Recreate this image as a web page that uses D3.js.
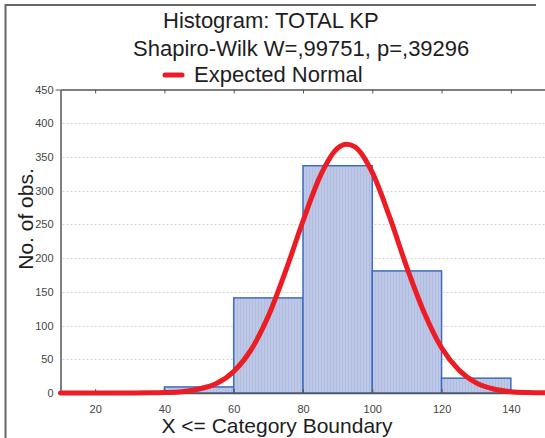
<!DOCTYPE html>
<html>
<head>
<meta charset="utf-8">
<script src="https://cdn.jsdelivr.net/npm/d3@7"></script>
<style>
  body { margin: 0; background: #fff; }
  svg { display: block; font-family: "Liberation Sans", Arial, sans-serif; }
</style>
</head>
<body>
<div id="chart"></div>
<script>
// histogram bins (upper boundary is the category boundary)
const binStarts = [40, 60, 80, 100, 120];
const binEnds = [60, 80, 100, 120, 140];
const binCounts = [9, 141, 337, 181, 22];

// expected normal curve
const curveX = [10, 15, 20, 25, 30, 35, 40, 45, 50, 55, 60, 65, 70, 75, 80, 85, 90, 92.5, 95, 100, 105, 110, 115, 120, 125, 130, 135, 140, 145, 150];
const curveY = [0, 0, 0, 0, 0, 0.2, 0.7, 2, 6, 14, 32, 64, 114, 181, 255, 322, 363, 369, 365, 327, 261, 186, 119, 67, 34, 15, 6, 2, 0.7, 0.2];

const xTicks = [20, 40, 60, 80, 100, 120, 140];
const yTicks = [0, 50, 100, 150, 200, 250, 300, 350, 400, 450];

const width = 545, height = 438;
const svg = d3.select('#chart').append('svg')
  .attr('width', width)
  .attr('height', height);

const x = d3.scaleLinear().domain([10, 150]).range([60.5, 545.5]);
const y = d3.scaleLinear().domain([0, 450]).range([393, 89.5]);

// outer frame
svg.append('path')
  .attr('d', 'M5.5,438 V5 H536')
  .attr('fill', 'none')
  .attr('stroke', '#666')
  .attr('stroke-width', 2);

// hatch pattern for bars
const defs = svg.append('defs');
const pat = defs.append('pattern')
  .attr('id', 'hatch')
  .attr('patternUnits', 'userSpaceOnUse')
  .attr('width', 3)
  .attr('height', 4);
pat.append('rect').attr('width', 3).attr('height', 4).attr('fill', '#bdc7e6');
pat.append('rect').attr('width', 1).attr('height', 4).attr('fill', '#b1bce0');

// grid
svg.append('g')
  .selectAll('line')
  .data(yTicks.filter(d => d > 0 && d < 450))
  .enter().append('line')
  .attr('x1', x(10) + 2)
  .attr('x2', width)
  .attr('y1', d => Math.round(y(d)) + 0.5)
  .attr('y2', d => Math.round(y(d)) + 0.5)
  .attr('stroke', '#d2d2d2')
  .attr('stroke-dasharray', '2,2');

// bars
const bins = binCounts.map((c, i) => ({ x0: binStarts[i], x1: binEnds[i], n: c }));
svg.append('g')
  .selectAll('rect')
  .data(bins)
  .enter().append('rect')
  .attr('x', d => x(d.x0))
  .attr('width', d => x(d.x1) - x(d.x0))
  .attr('y', d => y(d.n))
  .attr('height', d => y(0) - y(d.n))
  .attr('fill', 'url(#hatch)')
  .attr('stroke', '#3d6cc0')
  .attr('stroke-width', 1.5);

// axes
const xAxis = svg.append('g')
  .attr('transform', `translate(0,${y(0)})`)
  .call(d3.axisBottom(x).tickValues(xTicks).tickSizeInner(-4).tickSizeOuter(0).tickPadding(12));
const xTop = svg.append('g')
  .attr('transform', `translate(0,${y(450)})`)
  .call(d3.axisTop(x).tickValues(xTicks).tickSizeInner(-4).tickSizeOuter(0).tickFormat(''));
const yAxis = svg.append('g')
  .attr('transform', `translate(${x(10)},0)`)
  .call(d3.axisLeft(y).tickValues(yTicks).tickSizeInner(4).tickSizeOuter(0).tickPadding(3));

[xAxis, xTop, yAxis].forEach(g => {
  g.select('.domain').attr('stroke', '#555').attr('stroke-width', 1.5);
  g.selectAll('.tick line').attr('stroke', '#555');
  g.selectAll('.tick text')
    .attr('fill', '#444')
    .style('font-size', '11px')
    .style('font-family', '"Liberation Sans", Arial, sans-serif');
});
yAxis.selectAll('.tick line').attr('x2', d => (d === 450 ? -5 : 0));

// expected normal curve
const line = d3.line()
  .x((d, i) => x(curveX[i]))
  .y((d, i) => y(curveY[i]))
  .curve(d3.curveMonotoneX);
svg.append('path')
  .datum(curveY)
  .attr('d', line)
  .attr('fill', 'none')
  .attr('stroke', '#ec1c24')
  .attr('stroke-width', 5)
  .attr('stroke-linecap', 'round');

// titles
svg.append('text')
  .attr('x', 163).attr('y', 28)
  .attr('fill', '#1e1e1e')
  .style('font-size', '22px')
  .text('Histogram: TOTAL KP');
svg.append('text')
  .attr('x', 133).attr('y', 56)
  .attr('fill', '#1e1e1e')
  .style('font-size', '22px')
  .text('Shapiro-Wilk W=,99751, p=,39296');

// legend
svg.append('line')
  .attr('x1', 165).attr('x2', 182)
  .attr('y1', 75).attr('y2', 75)
  .attr('stroke', '#ec1c24')
  .attr('stroke-width', 5)
  .attr('stroke-linecap', 'round');
svg.append('text')
  .attr('x', 194).attr('y', 82)
  .attr('fill', '#1e1e1e')
  .style('font-size', '22px')
  .text('Expected Normal');

// axis titles
svg.append('text')
  .attr('x', 277).attr('y', 433)
  .attr('text-anchor', 'middle')
  .attr('fill', '#1e1e1e')
  .style('font-size', '21px')
  .text('X <= Category Boundary');
svg.append('text')
  .attr('transform', 'translate(33,219) rotate(-90)')
  .attr('text-anchor', 'middle')
  .attr('fill', '#1e1e1e')
  .style('font-size', '21px')
  .text('No. of obs.');
</script>
</body>
</html>
